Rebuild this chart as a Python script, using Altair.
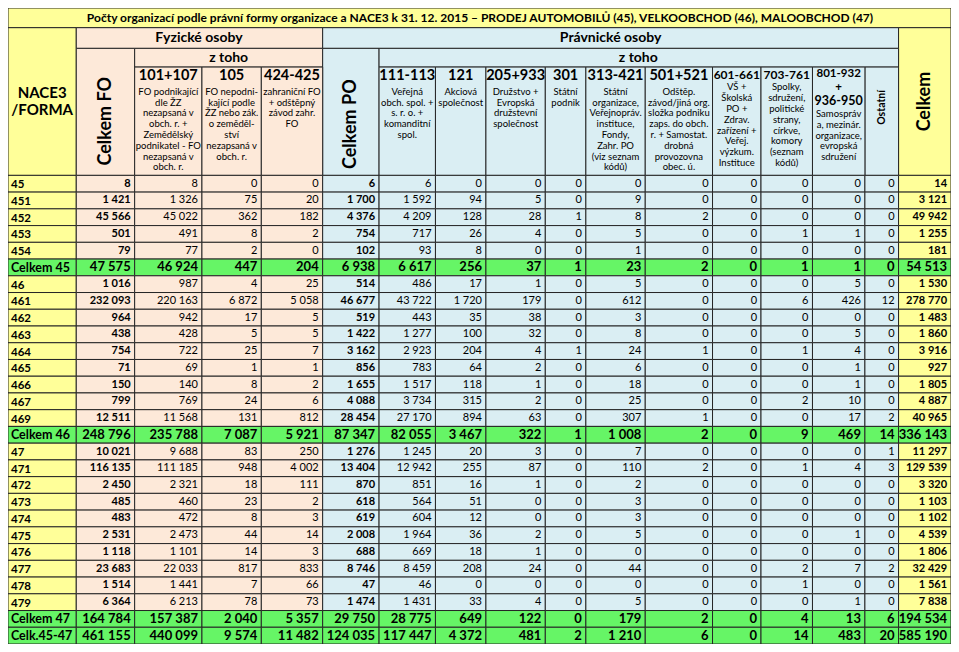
import altair as alt
import pandas as pd

# ---------------- data ----------------
title_text = ("Počty organizací podle právní formy organizace a NACE3 k 31. 12. 2015 "
              "– PRODEJ AUTOMOBILŮ (45), VELKOOBCHOD (46), MALOOBCHOD (47)")

row_labels = ["45", "451", "452", "453", "454", "Celkem 45",
              "46", "461", "462", "463", "464", "465", "466", "467", "469", "Celkem 46",
              "47", "471", "472", "473", "474", "475", "476", "477", "478", "479",
              "Celkem 47", "Celk.45-47"]
total_rows = ["Celkem 45", "Celkem 46", "Celkem 47", "Celk.45-47"]

codes = ["101+107", "105", "424-425", "111-113", "121", "205+933", "301",
         "313-421", "501+521", "601-661", "703-761", "801-932"]
descriptions = [
    "FO podnikající\ndle ŽZ\nnezapsaná v\nobch. r. +\nZemědělský\npodnikatel - FO\nnezapsaná v\nobch. r.",
    "FO nepodni-\nkající podle\nŽZ nebo zák.\no zeměděl-\nství\nnezapsaná v\nobch. r.",
    "zahraniční FO\n+ odštěpný\nzávod zahr.\nFO",
    "Veřejná\nobch. spol. +\ns. r. o. +\nkomanditní\nspol.",
    "Akciová\nspolečnost",
    "Družstvo +\nEvropská\ndružstevní\nspolečnost",
    "Státní\npodnik",
    "Státní\norganizace,\nVeřejnopráv.\ninstituce,\nFondy,\nZahr. PO\n(viz seznam\nkódů)",
    "Odštěp.\nzávod/jiná org.\nsložka podniku\nzaps. do obch.\nr. + Samostat.\ndrobná\nprovozovna\nobec. ú.",
    "VŠ +\nŠkolská\nPO +\nZdrav.\nzařízení +\nVeřej.\nvýzkum.\nInstituce",
    "Spolky,\nsdružení,\npolitické\nstrany,\ncírkve,\nkomory\n(seznam\nkódů)",
    "Samospráv\na, mezinár.\norganizace,\nevropská\nsdružení",
]
code_801_extra = ["+", "936-950"]

celkem_fo = [8, 1421, 45566, 501, 79, 47575, 1016, 232093, 964, 438, 754, 71, 150, 799, 12511, 248796,
             10021, 116135, 2450, 485, 483, 2531, 1118, 23683, 1514, 6364, 164784, 461155]
fo_101_107 = [8, 1326, 45022, 491, 77, 46924, 987, 220163, 942, 428, 722, 69, 140, 769, 11568, 235788,
              9688, 111185, 2321, 460, 472, 2473, 1101, 22033, 1441, 6213, 157387, 440099]
fo_105 = [0, 75, 362, 8, 2, 447, 4, 6872, 17, 5, 25, 1, 8, 24, 131, 7087,
          83, 948, 18, 23, 8, 44, 14, 817, 7, 78, 2040, 9574]
fo_424_425 = [0, 20, 182, 2, 0, 204, 25, 5058, 5, 5, 7, 1, 2, 6, 812, 5921,
              250, 4002, 111, 2, 3, 14, 3, 833, 66, 73, 5357, 11482]
celkem_po = [6, 1700, 4376, 754, 102, 6938, 514, 46677, 519, 1422, 3162, 856, 1655, 4088, 28454, 87347,
             1276, 13404, 870, 618, 619, 2008, 688, 8746, 47, 1474, 29750, 124035]
po_111_113 = [6, 1592, 4209, 717, 93, 6617, 486, 43722, 443, 1277, 2923, 783, 1517, 3734, 27170, 82055,
              1245, 12942, 851, 564, 604, 1964, 669, 8459, 46, 1431, 28775, 117447]
po_121 = [0, 94, 128, 26, 8, 256, 17, 1720, 35, 100, 204, 64, 118, 315, 894, 3467,
          20, 255, 16, 51, 12, 36, 18, 208, 0, 33, 649, 4372]
po_205_933 = [0, 5, 28, 4, 0, 37, 1, 179, 38, 32, 4, 2, 1, 2, 63, 322,
              3, 87, 1, 0, 0, 2, 1, 24, 0, 4, 122, 481]
po_301 = [0, 0, 1, 0, 0, 1, 0, 0, 0, 0, 1, 0, 0, 0, 0, 1,
          0, 0, 0, 0, 0, 0, 0, 0, 0, 0, 0, 2]
po_313_421 = [0, 9, 8, 5, 1, 23, 5, 612, 3, 8, 24, 6, 18, 25, 307, 1008,
              7, 110, 2, 3, 3, 5, 0, 44, 0, 5, 179, 1210]
po_501_521 = [0, 0, 2, 0, 0, 2, 0, 0, 0, 0, 1, 0, 0, 0, 1, 2,
              0, 2, 0, 0, 0, 0, 0, 0, 0, 0, 2, 6]
po_601_661 = [0] * 28
po_703_761 = [0, 0, 0, 1, 0, 1, 0, 6, 0, 0, 1, 0, 0, 2, 0, 9,
              0, 1, 0, 0, 0, 0, 0, 2, 1, 0, 4, 14]
po_801_950 = [0, 0, 0, 1, 0, 1, 5, 426, 0, 5, 4, 1, 1, 10, 17, 469,
              0, 4, 0, 0, 0, 1, 0, 7, 0, 1, 13, 483]
ostatni = [0, 0, 0, 0, 0, 0, 0, 12, 0, 0, 0, 0, 0, 0, 2, 14,
           1, 3, 0, 0, 0, 0, 0, 2, 0, 0, 6, 20]
celkem = [14, 3121, 49942, 1255, 181, 54513, 1530, 278770, 1483, 1860, 3916, 927, 1805, 4887, 40965, 336143,
          11297, 129539, 3320, 1103, 1102, 4539, 1806, 32429, 1561, 7838, 194534, 585190]

value_columns = [celkem_fo, fo_101_107, fo_105, fo_424_425, celkem_po, po_111_113, po_121,
                 po_205_933, po_301, po_313_421, po_501_521, po_601_661, po_703_761,
                 po_801_950, ostatni, celkem]

# ---------------- layout (style only) ----------------
YELLOW = "#FFFF99"
PEACH = "#FDE9D9"
BLUE = "#DAEEF3"
GREEN = "#66F566"
LINE = "#262626"
FONT = "Lato"

col_edges = [2, 71, 130, 198, 258, 320, 377, 434, 485, 545, 586, 646, 714, 763, 815, 868, 902, 955]
hdr = [2, 22, 43, 62, 172]
row_h = 17.0
bold_cols = {0, 4, 15}          # Celkem FO, Celkem PO, Celkem


def col_fill(ci):
    if ci <= 3:
        return PEACH
    if ci <= 14:
        return BLUE
    return YELLOW


def fmt(v):
    return f"{v:,}".replace(",", " ")


rects, num_norm, num_bold, labels, hdr_bold, hdr_desc, hdr_rot = [], [], [], [], [], [], []

# header rectangles
rects += [
    dict(x0=2, x1=955, y0=2, y1=22, fill=YELLOW),
    dict(x0=2, x1=71, y0=22, y1=172, fill=YELLOW),
    dict(x0=71, x1=320, y0=22, y1=43, fill=PEACH),
    dict(x0=320, x1=902, y0=22, y1=43, fill=BLUE),
    dict(x0=902, x1=955, y0=22, y1=172, fill=YELLOW),
    dict(x0=71, x1=130, y0=43, y1=172, fill=PEACH),
    dict(x0=130, x1=320, y0=43, y1=62, fill=PEACH),
    dict(x0=320, x1=377, y0=43, y1=172, fill=BLUE),
    dict(x0=377, x1=902, y0=43, y1=62, fill=BLUE),
    dict(x0=868, x1=902, y0=62, y1=172, fill=BLUE),
]
code_cols = [1, 2, 3, 5, 6, 7, 8, 9, 10, 11, 12, 13]
for k, ci in enumerate(code_cols):
    x0, x1 = col_edges[ci + 1], col_edges[ci + 2]
    rects.append(dict(x0=x0, x1=x1, y0=62, y1=172, fill=col_fill(ci)))
    xc = (x0 + x1) / 2
    small = codes[k] in ("601-661", "703-761", "801-932")
    if codes[k] == "801-932":
        hdr_bold.append(dict(tx=xc, ty=69.5, t=codes[k], fs=11.5))
        hdr_bold.append(dict(tx=xc, ty=83, t=code_801_extra[0], fs=11.5))
        hdr_bold.append(dict(tx=xc, ty=96.5, t=code_801_extra[1], fs=12.5))
        dy = 104.5
    elif small:
        hdr_bold.append(dict(tx=xc, ty=70, t=codes[k], fs=12))
        dy = 77.5
    else:
        hdr_bold.append(dict(tx=xc, ty=71, t=codes[k], fs=14.5))
        dy = 82
    hdr_desc.append(dict(tx=xc, ty=dy, t=descriptions[k]))

hdr_bold += [
    dict(tx=479, ty=12.5, t=title_text, fs=12),
    dict(tx=195, ty=32.5, t="Fyzické osoby", fs=14),
    dict(tx=611, ty=32.5, t="Právnické osoby", fs=14),
    dict(tx=225, ty=52.5, t="z toho", fs=14),
    dict(tx=639, ty=52.5, t="z toho", fs=14),
    dict(tx=36.5, ty=88, t="NACE3", fs=15),
    dict(tx=36.5, ty=106, t="/FORMA", fs=15),
]
hdr_rot += [
    dict(tx=101, ty=117, t="Celkem FO", fs=18),
    dict(tx=349, ty=120, t="Celkem PO", fs=18),
    dict(tx=929, ty=97, t="Celkem", fs=18),
    dict(tx=885, ty=103, t="Ostatní", fs=10.5),
]

# data cells
for ri, lab in enumerate(row_labels):
    y0 = hdr[-1] + ri * row_h
    y1 = y0 + row_h
    yc = (y0 + y1) / 2
    is_tot = lab in total_rows
    rects.append(dict(x0=2, x1=71, y0=y0, y1=y1, fill=GREEN if is_tot else YELLOW))
    labels.append(dict(tx=5, ty=yc + (0.5 if is_tot else 1.5), t=lab, fs=12.5 if is_tot else 11.5))
    for ci, series in enumerate(value_columns):
        x0, x1 = col_edges[ci + 1], col_edges[ci + 2]
        rects.append(dict(x0=x0, x1=x1, y0=y0, y1=y1, fill=GREEN if is_tot else col_fill(ci)))
        cell = dict(tx=x1 - 4, ty=yc, t=fmt(series[ri]), fs=13 if is_tot else 11)
        if is_tot or ci in bold_cols:
            num_bold.append(cell)
        else:
            num_norm.append(cell)

XS = alt.Scale(domain=[2, 955], nice=False, zero=False)
YS = alt.Scale(domain=[2, 648], nice=False, zero=False, reverse=True)

rect_layer = alt.Chart(pd.DataFrame(rects)).mark_rect(stroke=LINE, strokeWidth=1).encode(
    x=alt.X("x0:Q", scale=XS, axis=None),
    x2="x1:Q",
    y=alt.Y("y0:Q", scale=YS, axis=None),
    y2="y1:Q",
    fill=alt.Fill("fill:N", scale=None),
)


def text_layer(rows, **mark):
    return alt.Chart(pd.DataFrame(rows)).mark_text(font=FONT, color="#000000", **mark).encode(
        x=alt.X("tx:Q", scale=XS, axis=None),
        y=alt.Y("ty:Q", scale=YS, axis=None),
        text="t:N",
        size=alt.Size("fs:Q", scale=None),
    )


desc_layer = alt.Chart(pd.DataFrame(hdr_desc)).mark_text(
    font=FONT, color="#000000", fontSize=9.5, baseline="top", align="center",
    lineBreak="\n", lineHeight=10.8
).encode(
    x=alt.X("tx:Q", scale=XS, axis=None),
    y=alt.Y("ty:Q", scale=YS, axis=None),
    text="t:N",
)

chart = alt.layer(
    rect_layer,
    text_layer(num_norm, align="right", baseline="middle"),
    text_layer(num_bold, align="right", baseline="middle", fontWeight="bold"),
    text_layer(labels, align="left", baseline="middle", fontWeight="bold"),
    text_layer(hdr_bold, align="center", baseline="middle", fontWeight="bold"),
    text_layer(hdr_rot, align="center", baseline="middle", fontWeight="bold", angle=270),
    desc_layer,
).properties(
    width=943, height=636, padding=0, autosize="none"
).configure_view(stroke=None)

chart.save("out.html", embed_options={"renderer": "svg", "actions": False})
